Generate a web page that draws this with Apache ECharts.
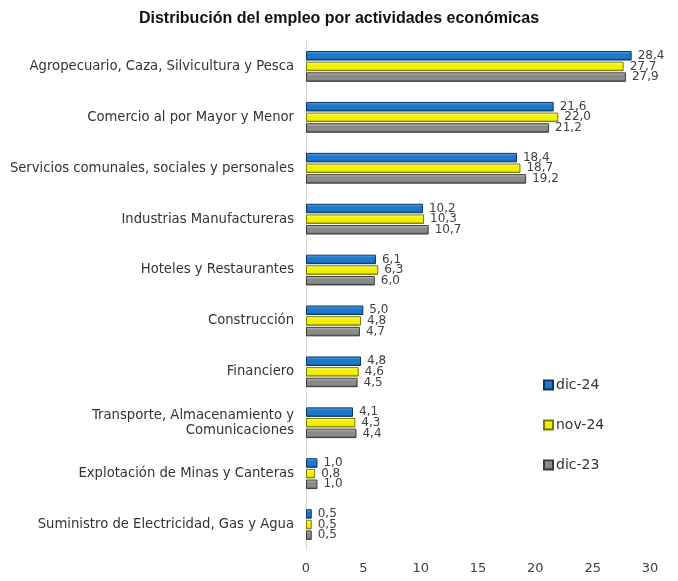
<!DOCTYPE html>
<html>
<head>
<meta charset="utf-8">
<script src="https://cdn.jsdelivr.net/npm/echarts@6/dist/echarts.min.js"></script>
<style>
html,body{margin:0;padding:0;background:#fff;}
#chart{width:678px;height:581px;}
</style>
</head>
<body>
<div id="chart"></div>
<script>
var categories = ['Agropecuario, Caza, Silvicultura y Pesca','Comercio al por Mayor y Menor','Servicios comunales, sociales y personales','Industrias Manufactureras','Hoteles y Restaurantes','Construcción','Financiero','Transporte, Almacenamiento y\nComunicaciones','Explotación de Minas y Canteras','Suministro de Electricidad, Gas y Agua'];
var dic24 = [28.4,21.6,18.4,10.2,6.1,5.0,4.8,4.1,1.0,0.5];
var nov24 = [27.7,22.0,18.7,10.3,6.3,4.8,4.6,4.3,0.8,0.5];
var dic23 = [27.9,21.2,19.2,10.7,6.0,4.7,4.5,4.4,1.0,0.5];
var xTicks = [0,5,10,15,20,25,30];

// degradado vertical para dar efecto de barra en relieve
function grad(light, mid, dark){
	return new echarts.graphic.LinearGradient(0,0,0,1,[
		{offset:0, color:light},
		{offset:0.35, color:mid},
		{offset:0.75, color:mid},
		{offset:1, color:dark}
	]);
}

function serie(name, data, colors, edge){
	return {
		name:name,
		type:'bar',
		data:data,
		barWidth:9.5,
		barGap:'12%',
		barCategoryGap:'40%',
		itemStyle:{color:grad(colors[0],colors[1],colors[2]), borderColor:edge, borderWidth:1},
		label:{
			show:true,
			position:'right',
			distance:6,
			color:'#404040',
			fontSize:12,
			fontFamily:'DejaVu Sans',
			formatter:function(p){ return p.value.toFixed(1).replace('.',','); }
		}
	};
}

var myChart = echarts.init(document.getElementById('chart'));
myChart.setOption({
	animation:false,
	title:{
		text:'Distribución del empleo por actividades económicas',
		left:'center',
		top:6,
		textStyle:{fontSize:16, fontWeight:'bold', color:'#111', fontFamily:'Liberation Sans'}
	},
	legend:{
		orient:'vertical',
		left:538,
		top:373,
		itemGap:26,
		itemWidth:9,
		itemHeight:9,
		icon:'rect',
		textStyle:{fontSize:14, color:'#333', fontFamily:'DejaVu Sans', padding:[0,0,0,-2]},
		data:['dic-24','nov-24','dic-23']
	},
	grid:{left:306, right:28, top:41, bottom:31},
	xAxis:{
		type:'value',
		min:0, max:30, interval:5,
		axisLine:{show:false},
		axisTick:{show:false},
		splitLine:{show:false},
		axisLabel:{color:'#404040', fontSize:13, fontFamily:'DejaVu Sans', margin:12,
			formatter:function(v){ return xTicks.indexOf(v) >= 0 ? String(v) : ''; }}
	},
	yAxis:{
		type:'category',
		inverse:true,
		data:categories,
		axisLine:{show:true, lineStyle:{color:'#d9d9d9'}},
		axisTick:{show:false},
		axisLabel:{color:'#333', fontSize:13.2, fontFamily:'DejaVu Sans', margin:12, lineHeight:15}
	},
	series:[
		serie('dic-24', dic24, ['#5aa8ea','#1e78c8','#0b3f7c'], '#0a3566'),
		serie('nov-24', nov24, ['#ffffa0','#f2f200','#8c8c00'], '#7a7a00'),
		serie('dic-23', dic23, ['#c4c4c4','#8a8a8a','#444444'], '#3a3a3a')
	]
});
</script>
</body>
</html>
